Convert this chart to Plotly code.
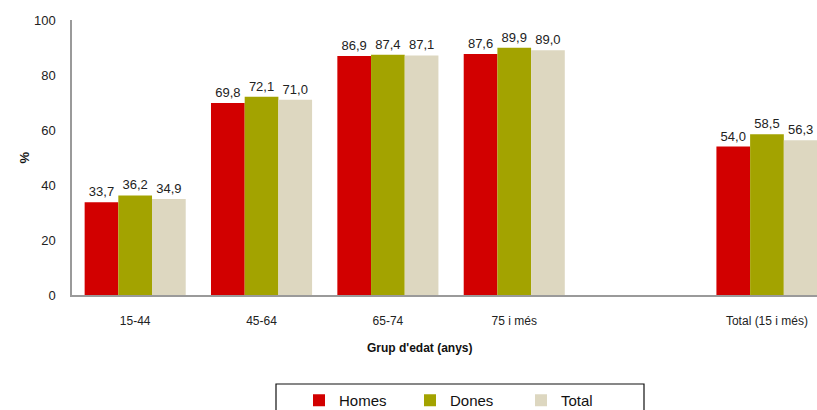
import plotly.graph_objects as go

categories = ["15-44", "45-64", "65-74", "75 i més", " ", "Total (15 i més)"]
homes = [33.7, 69.8, 86.9, 87.6, None, 54.0]
dones = [36.2, 72.1, 87.4, 89.9, None, 58.5]
total = [34.9, 71.0, 87.1, 89.0, None, 56.3]
series_names = ["Homes", "Dones", "Total"]
colors = ["#D20000", "#A3A300", "#DDD7C0"]

fig = go.Figure()
for name, vals, col in zip(series_names, [homes, dones, total], colors):
    fig.add_trace(go.Bar(
        x=categories, y=vals, name=name,
        marker=dict(color=col, line=dict(width=0)),
        texttemplate="%{y:.1f}", textposition="outside",
        textfont=dict(family="Arial, Liberation Sans", size=13, color="#222222"),
        cliponaxis=False,
    ))

W, H = 817, 410
L, T, B, R = 72, 20, 115, 0
pw, ph = W - L - R, H - T - B

def px_x(p):
    return (p - L) / pw

def px_y(p):
    return (T + ph - p) / ph

fig.update_layout(
    width=W, height=H,
    margin=dict(l=L, r=R, t=T, b=B, autoexpand=False),
    paper_bgcolor="white", plot_bgcolor="white",
    separators=",.",
    barmode="group", bargap=0.2, bargroupgap=0,
    font=dict(family="Arial, Liberation Sans", color="#222222"),
    xaxis=dict(
        type="category", categoryorder="array", categoryarray=categories,
        range=[-0.5, 5.396], automargin=False,
        showline=True, linecolor="#9a9a9a", linewidth=1.5,
        showgrid=False, ticks="", ticklabelstandoff=14,
        tickfont=dict(size=12, color="#222222"),
    ),
    yaxis=dict(
        range=[0, 100], dtick=20, automargin=False,
        showline=True, linecolor="#9a9a9a", linewidth=1.5,
        showgrid=False, zeroline=False, ticks="", ticklabelstandoff=12,
        tickfont=dict(size=13, color="#222222"),
    ),
    showlegend=True,
    legend=dict(
        orientation="h", xanchor="left", yanchor="top",
        x=px_x(299), y=px_y(384),
        entrywidth=66, entrywidthmode="pixels",
        font=dict(size=15, color="#111111"),
        borderwidth=0, bgcolor="rgba(0,0,0,0)",
    ),
    annotations=[
        dict(text="<b>Grup d'edat (anys)</b>", xref="paper", yref="paper",
             x=px_x(420), y=px_y(357), showarrow=False,
             font=dict(size=12, color="#111111")),
        dict(text="<b>%</b>", xref="paper", yref="paper",
             x=px_x(14), y=px_y(158), showarrow=False, textangle=-90,
             font=dict(size=13, color="#111111")),
    ],
    shapes=[
        dict(type="rect", xref="paper", yref="paper",
             x0=px_x(276), x1=px_x(644), y0=px_y(384), y1=px_y(420),
             line=dict(color="#111111", width=1.2), fillcolor="rgba(0,0,0,0)"),
    ],
)

fig.write_html("out.html", config={"displayModeBar": False},
               post_script="document.body.style.margin='0';document.body.style.overflow='hidden';")
